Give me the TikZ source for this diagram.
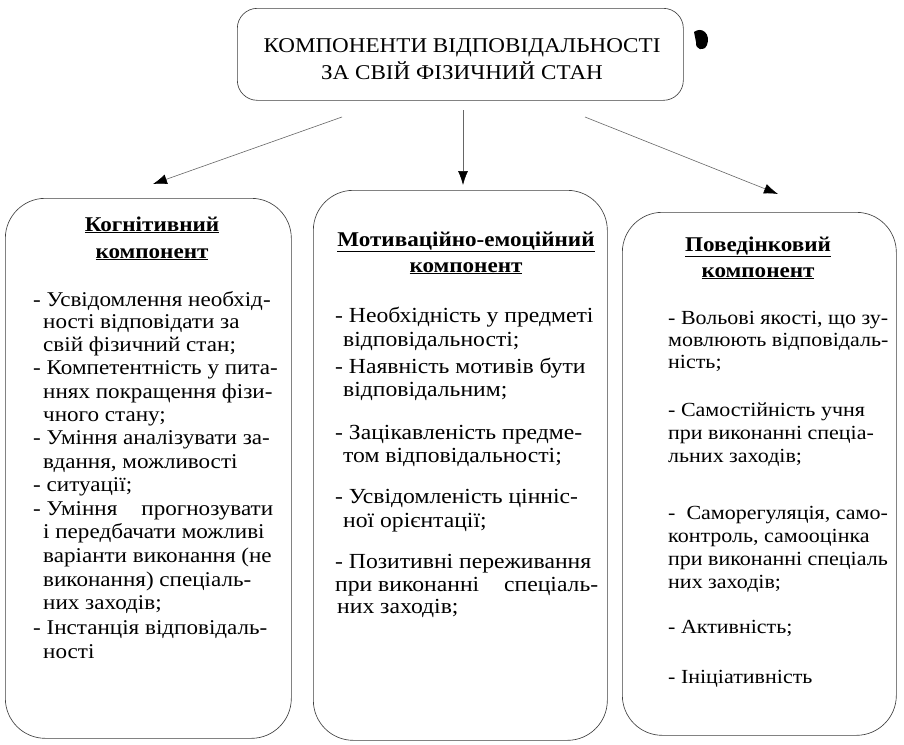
\documentclass[tikz,border=0pt]{standalone}
\usepackage{fontspec}
\setmainfont{Liberation Serif}[FakeStretch=1.1]
\usetikzlibrary{arrows.meta}
\begin{document}
\begin{tikzpicture}[x=1pt,y=-1pt,
  box/.style={draw=black!75, line width=0.65pt, rounded corners=40pt, inner sep=0pt, anchor=north west},
  topbox/.style={draw=black!75, line width=0.65pt, rounded corners=20pt, inner sep=0pt, anchor=north west},
  txt/.style={font=\fontsize{21}{23}\selectfont, inner sep=0pt, anchor=base west},
  mtxt/.style={font=\fontsize{21.5}{24}\selectfont, inner sep=0pt, anchor=base west},
  rtxt/.style={font=\fontsize{20}{23}\selectfont, inner sep=0pt, anchor=base west},
  ttl/.style={font=\fontsize{21}{23}\selectfont\bfseries, inner sep=0pt, anchor=base},
  toptxt/.style={font=\fontsize{21}{24}\selectfont, inner sep=0pt, anchor=base},
  arr/.style={-{Latex[length=14pt,width=10pt,color=black]}, line width=0.6pt, draw=black!60}]
\useasboundingbox (0,0) rectangle (904,744);
\fill[white] (0,0) rectangle (904,744);

% top box
\node[topbox, minimum width=446pt, minimum height=92pt] (top) at (237,8) {};
\node[toptxt] (t1) at (462,52) {КОМПОНЕНТИ ВІДПОВІДАЛЬНОСТІ};
\node[toptxt] (t2) at (462,79) {ЗА СВІЙ ФІЗИЧНИЙ СТАН};
\fill[black] (694,32) .. controls (702,26) and (711,34) .. (707,45) .. controls (704,52) and (695,50) .. (696,42) -- cycle;

% three boxes
\node[box, minimum width=286pt, minimum height=540pt] (cog) at (5,198) {};
\node[box, minimum width=294pt, minimum height=550pt] (mot) at (313,190) {};
\node[box, minimum width=274pt, minimum height=523pt] (beh) at (622,212) {};

% arrows
\coordinate (s1) at (342,117); \coordinate (e1) at (153,184);
\coordinate (s2) at (463,110); \coordinate (e2) at (463,185);
\coordinate (s3) at (585,117); \coordinate (e3) at (778,194);
\draw[arr] (s1) -- (e1);
\draw[arr] (s2) -- (e2);
\draw[arr] (s3) -- (e3);

% titles
\node[ttl] (c1) at (152,231) {\underline{Когнітивний}};
\node[ttl] (c2) at (152,258) {\underline{компонент}};
\node[ttl] (m1) at (466,246) {\underline{Мотиваційно-емоційний}};
\node[ttl] (m2) at (466,272) {\underline{компонент}};
\node[ttl] (b1) at (758,251) {\underline{Поведінковий}};
\node[ttl] (b2) at (758,277) {\underline{компонент}};

% left column
\foreach \x/\y/\t [count=\i] in {
  33/300/{- Усвідомлення необхід-},
  43/322/{ності відповідати за},
  43/345/{свій фізичний стан;},
  33/368/{- Компетентність у пита-},
  43/392/{ннях покращення фізи-},
  43/415/{чного стану;},
  33/438/{- Уміння аналізувати за-},
  43/462/{вдання, можливості},
  33/485/{- ситуації;},
  33/509/{\makebox[240pt][l]{- Уміння\hfill прогнозувати}},
  43/532/{і передбачати можливі},
  43/556/{варіанти виконання (не},
  43/580/{виконання) спеціаль-},
  43/603/{них заходів;},
  33/628/{- Інстанція відповідаль-},
  43/652/{ності}}
  \node[txt] (L\i) at (\x,\y+6) {\t};

% middle column
\foreach \x/\y/\t [count=\i] in {
  335/316/{- Необхідність у предметі},
  343/340/{відповідальності;},
  335/367/{- Наявність мотивів бути},
  343/390/{відповідальним;},
  335/433/{- Зацікавленість предме-},
  343/456/{том відповідальності;},
  335/497/{- Усвідомленість цінніс-},
  343/521/{ної орієнтації;},
  335/562/{- Позитивні переживання},
  335/585/{\makebox[263pt][l]{при виконанні\hfill спеціаль-}},
  337/607/{них заходів;}}
  \node[mtxt] (M\i) at (\x,\y+6) {\t};

% right column
\foreach \x/\y/\t [count=\i] in {
  668/318/{- Вольові якості, що зу-},
  668/340/{мовлюють відповідаль-},
  668/362/{ність;},
  668/410/{- Самостійність учня},
  668/433/{при виконанні спеціа-},
  668/456/{льних заходів;},
  668/513/{-\ \ Саморегуляція, само-},
  668/536/{контроль, самооцінка},
  668/559/{при виконанні спеціаль},
  668/582/{них заходів;},
  668/627/{- Активність;},
  668/677/{- Ініціативність}}
  \node[rtxt] (R\i) at (\x,\y+6) {\t};
\end{tikzpicture}
\end{document}
